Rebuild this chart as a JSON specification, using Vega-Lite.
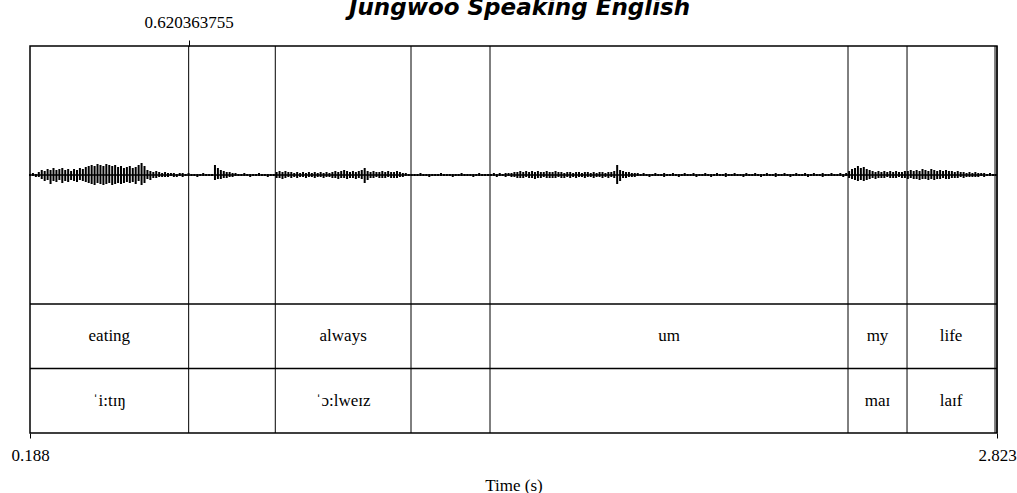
{
  "$schema": "https://vega.github.io/schema/vega-lite/v6.json",
  "width": 967,
  "height": 387,
  "autosize": {"type": "none"},
  "padding": {"left": 30, "top": 46, "right": 20, "bottom": 60},
  "title": {"text": "Jungwoo Speaking English", "font": "DejaVu Sans", "fontSize": 23, "fontStyle": "italic", "fontWeight": "bold", "anchor": "middle", "offset": -7, "dx": 6, "color": "black"},
  "config": {
    "view": {"stroke": "black", "strokeWidth": 1.5},
    "axis": {"labelFont": "Liberation Serif, Times New Roman, serif", "labelFontSize": 17, "labelColor": "black", "tickColor": "black", "tickWidth": 1, "domain": false, "grid": false, "labelFlush": false, "titleFont": "Liberation Serif, Times New Roman, serif", "titleFontSize": 17, "titleFontWeight": "normal", "titleColor": "black"}
  },
  "datasets": {
    "intervals": [
      {"tier": 1, "start": 0.188, "end": 0.620363755, "label": "eating"},
      {"tier": 1, "start": 0.620363755, "end": 0.8564, "label": ""},
      {"tier": 1, "start": 0.8564, "end": 1.2262, "label": "always"},
      {"tier": 1, "start": 1.2262, "end": 1.4415, "label": ""},
      {"tier": 1, "start": 1.4415, "end": 2.417, "label": "um"},
      {"tier": 1, "start": 2.417, "end": 2.5778, "label": "my"},
      {"tier": 1, "start": 2.5778, "end": 2.8176, "label": "life"},
      {"tier": 1, "start": 2.8176, "end": 2.823, "label": ""},
      {"tier": 2, "start": 0.188, "end": 0.620363755, "label": "ˈi:tɪŋ"},
      {"tier": 2, "start": 0.620363755, "end": 0.8564, "label": ""},
      {"tier": 2, "start": 0.8564, "end": 1.2262, "label": "ˈɔ:lweɪz"},
      {"tier": 2, "start": 1.2262, "end": 1.4415, "label": ""},
      {"tier": 2, "start": 1.4415, "end": 2.417, "label": ""},
      {"tier": 2, "start": 2.417, "end": 2.5778, "label": "maɪ"},
      {"tier": 2, "start": 2.5778, "end": 2.8176, "label": "laɪf"},
      {"tier": 2, "start": 2.8176, "end": 2.823, "label": ""}
    ],
    "wave": [
      {"t":0.188,"hi":1,"lo":-1},{"t":0.196,"hi":2,"lo":-1},{"t":0.204,"hi":1,"lo":-2},{"t":0.212,"hi":3,"lo":-2},
      {"t":0.220,"hi":5,"lo":-4},{"t":0.228,"hi":4,"lo":-6},{"t":0.236,"hi":6,"lo":-5},{"t":0.244,"hi":5,"lo":-9},
      {"t":0.252,"hi":7,"lo":-6},{"t":0.260,"hi":5,"lo":-7},{"t":0.268,"hi":6,"lo":-5},{"t":0.276,"hi":7,"lo":-8},
      {"t":0.284,"hi":5,"lo":-6},{"t":0.292,"hi":6,"lo":-7},{"t":0.300,"hi":4,"lo":-5},{"t":0.308,"hi":6,"lo":-6},
      {"t":0.316,"hi":5,"lo":-7},{"t":0.324,"hi":7,"lo":-5},{"t":0.332,"hi":6,"lo":-6},{"t":0.340,"hi":8,"lo":-7},
      {"t":0.348,"hi":9,"lo":-8},{"t":0.356,"hi":10,"lo":-9},{"t":0.364,"hi":9,"lo":-10},{"t":0.372,"hi":11,"lo":-8},
      {"t":0.380,"hi":10,"lo":-9},{"t":0.388,"hi":9,"lo":-10},{"t":0.396,"hi":11,"lo":-9},{"t":0.404,"hi":10,"lo":-8},
      {"t":0.412,"hi":9,"lo":-10},{"t":0.420,"hi":10,"lo":-9},{"t":0.428,"hi":8,"lo":-8},{"t":0.436,"hi":9,"lo":-9},
      {"t":0.444,"hi":7,"lo":-8},{"t":0.452,"hi":8,"lo":-7},{"t":0.460,"hi":9,"lo":-8},{"t":0.468,"hi":7,"lo":-7},
      {"t":0.476,"hi":8,"lo":-9},{"t":0.484,"hi":10,"lo":-6},{"t":0.492,"hi":12,"lo":-10},{"t":0.500,"hi":9,"lo":-8},
      {"t":0.508,"hi":5,"lo":-4},{"t":0.516,"hi":4,"lo":-5},{"t":0.524,"hi":3,"lo":-3},{"t":0.532,"hi":4,"lo":-3},
      {"t":0.540,"hi":3,"lo":-2},{"t":0.548,"hi":2,"lo":-2},{"t":0.556,"hi":3,"lo":-2},{"t":0.564,"hi":2,"lo":-2},
      {"t":0.572,"hi":2,"lo":-1},{"t":0.580,"hi":2,"lo":-2},{"t":0.588,"hi":1,"lo":-2},{"t":0.596,"hi":2,"lo":-1},
      {"t":0.604,"hi":2,"lo":-2},{"t":0.612,"hi":1,"lo":-1},{"t":0.620,"hi":2,"lo":-1},{"t":0.628,"hi":1,"lo":-1},
      {"t":0.636,"hi":1,"lo":-1},{"t":0.644,"hi":1,"lo":-2},{"t":0.652,"hi":1,"lo":-1},{"t":0.660,"hi":2,"lo":-1},
      {"t":0.668,"hi":1,"lo":-1},{"t":0.676,"hi":1,"lo":-1},{"t":0.684,"hi":1,"lo":-1},{"t":0.692,"hi":10,"lo":-5},
      {"t":0.700,"hi":7,"lo":-4},{"t":0.708,"hi":5,"lo":-4},{"t":0.716,"hi":4,"lo":-3},{"t":0.724,"hi":3,"lo":-3},
      {"t":0.732,"hi":3,"lo":-2},{"t":0.740,"hi":2,"lo":-2},{"t":0.748,"hi":2,"lo":-1},{"t":0.756,"hi":1,"lo":-1},
      {"t":0.764,"hi":1,"lo":-1},{"t":0.772,"hi":2,"lo":-1},{"t":0.780,"hi":1,"lo":-1},{"t":0.788,"hi":1,"lo":-2},
      {"t":0.796,"hi":1,"lo":-1},{"t":0.804,"hi":1,"lo":-1},{"t":0.812,"hi":2,"lo":-1},{"t":0.820,"hi":1,"lo":-1},
      {"t":0.828,"hi":1,"lo":-1},{"t":0.836,"hi":1,"lo":-2},{"t":0.844,"hi":1,"lo":-1},{"t":0.852,"hi":1,"lo":-1},
      {"t":0.860,"hi":3,"lo":-3},{"t":0.868,"hi":4,"lo":-3},{"t":0.876,"hi":3,"lo":-4},{"t":0.884,"hi":4,"lo":-3},
      {"t":0.892,"hi":3,"lo":-2},{"t":0.900,"hi":3,"lo":-3},{"t":0.908,"hi":2,"lo":-2},{"t":0.916,"hi":3,"lo":-3},
      {"t":0.924,"hi":2,"lo":-2},{"t":0.932,"hi":3,"lo":-2},{"t":0.940,"hi":2,"lo":-3},{"t":0.948,"hi":3,"lo":-2},
      {"t":0.956,"hi":2,"lo":-2},{"t":0.964,"hi":3,"lo":-3},{"t":0.972,"hi":2,"lo":-2},{"t":0.980,"hi":3,"lo":-2},
      {"t":0.988,"hi":2,"lo":-3},{"t":0.996,"hi":3,"lo":-2},{"t":1.004,"hi":2,"lo":-2},{"t":1.012,"hi":3,"lo":-3},
      {"t":1.020,"hi":4,"lo":-3},{"t":1.028,"hi":3,"lo":-4},{"t":1.036,"hi":4,"lo":-3},{"t":1.044,"hi":5,"lo":-3},
      {"t":1.052,"hi":4,"lo":-4},{"t":1.060,"hi":3,"lo":-3},{"t":1.068,"hi":4,"lo":-3},{"t":1.076,"hi":3,"lo":-4},
      {"t":1.084,"hi":4,"lo":-3},{"t":1.092,"hi":5,"lo":-4},{"t":1.100,"hi":7,"lo":-8},{"t":1.108,"hi":4,"lo":-5},
      {"t":1.116,"hi":3,"lo":-3},{"t":1.124,"hi":4,"lo":-3},{"t":1.132,"hi":3,"lo":-2},{"t":1.140,"hi":3,"lo":-3},
      {"t":1.148,"hi":4,"lo":-3},{"t":1.156,"hi":3,"lo":-3},{"t":1.164,"hi":4,"lo":-2},{"t":1.172,"hi":3,"lo":-3},
      {"t":1.180,"hi":3,"lo":-3},{"t":1.188,"hi":4,"lo":-3},{"t":1.196,"hi":3,"lo":-2},{"t":1.204,"hi":2,"lo":-2},
      {"t":1.212,"hi":2,"lo":-1},{"t":1.220,"hi":1,"lo":-1},{"t":1.228,"hi":1,"lo":-1},{"t":1.236,"hi":1,"lo":-1},
      {"t":1.244,"hi":1,"lo":-1},{"t":1.252,"hi":2,"lo":-1},{"t":1.260,"hi":1,"lo":-1},{"t":1.268,"hi":1,"lo":-1},
      {"t":1.276,"hi":1,"lo":-2},{"t":1.284,"hi":1,"lo":-1},{"t":1.292,"hi":1,"lo":-1},{"t":1.300,"hi":1,"lo":-1},
      {"t":1.308,"hi":2,"lo":-1},{"t":1.316,"hi":1,"lo":-1},{"t":1.324,"hi":1,"lo":-1},{"t":1.332,"hi":1,"lo":-1},
      {"t":1.340,"hi":1,"lo":-2},{"t":1.348,"hi":1,"lo":-1},{"t":1.356,"hi":1,"lo":-1},{"t":1.364,"hi":2,"lo":-1},
      {"t":1.372,"hi":1,"lo":-1},{"t":1.380,"hi":1,"lo":-1},{"t":1.388,"hi":1,"lo":-1},{"t":1.396,"hi":1,"lo":-2},
      {"t":1.404,"hi":1,"lo":-1},{"t":1.412,"hi":2,"lo":-1},{"t":1.420,"hi":1,"lo":-1},{"t":1.428,"hi":1,"lo":-1},
      {"t":1.436,"hi":1,"lo":-1},{"t":1.444,"hi":1,"lo":-1},{"t":1.452,"hi":2,"lo":-1},{"t":1.460,"hi":1,"lo":-2},
      {"t":1.468,"hi":2,"lo":-1},{"t":1.476,"hi":1,"lo":-1},{"t":1.484,"hi":2,"lo":-2},{"t":1.492,"hi":2,"lo":-1},
      {"t":1.500,"hi":2,"lo":-2},{"t":1.508,"hi":3,"lo":-2},{"t":1.516,"hi":3,"lo":-3},{"t":1.524,"hi":4,"lo":-3},
      {"t":1.532,"hi":3,"lo":-3},{"t":1.540,"hi":4,"lo":-2},{"t":1.548,"hi":3,"lo":-3},{"t":1.556,"hi":4,"lo":-3},
      {"t":1.564,"hi":3,"lo":-4},{"t":1.572,"hi":4,"lo":-3},{"t":1.580,"hi":3,"lo":-3},{"t":1.588,"hi":3,"lo":-2},
      {"t":1.596,"hi":4,"lo":-3},{"t":1.604,"hi":3,"lo":-3},{"t":1.612,"hi":3,"lo":-3},{"t":1.620,"hi":4,"lo":-3},
      {"t":1.628,"hi":3,"lo":-2},{"t":1.636,"hi":3,"lo":-3},{"t":1.644,"hi":2,"lo":-3},{"t":1.652,"hi":3,"lo":-2},
      {"t":1.660,"hi":3,"lo":-3},{"t":1.668,"hi":2,"lo":-2},{"t":1.676,"hi":3,"lo":-3},{"t":1.684,"hi":3,"lo":-2},
      {"t":1.692,"hi":2,"lo":-2},{"t":1.700,"hi":3,"lo":-3},{"t":1.708,"hi":3,"lo":-2},{"t":1.716,"hi":2,"lo":-2},
      {"t":1.724,"hi":3,"lo":-3},{"t":1.732,"hi":2,"lo":-2},{"t":1.740,"hi":3,"lo":-2},{"t":1.748,"hi":3,"lo":-3},
      {"t":1.756,"hi":2,"lo":-2},{"t":1.764,"hi":3,"lo":-3},{"t":1.772,"hi":3,"lo":-2},{"t":1.780,"hi":4,"lo":-3},
      {"t":1.788,"hi":10,"lo":-9},{"t":1.796,"hi":5,"lo":-6},{"t":1.804,"hi":4,"lo":-3},{"t":1.812,"hi":3,"lo":-3},
      {"t":1.820,"hi":3,"lo":-2},{"t":1.828,"hi":2,"lo":-2},{"t":1.836,"hi":2,"lo":-2},{"t":1.844,"hi":2,"lo":-1},
      {"t":1.852,"hi":1,"lo":-1},{"t":1.860,"hi":2,"lo":-1},{"t":1.868,"hi":1,"lo":-1},{"t":1.876,"hi":1,"lo":-2},
      {"t":1.884,"hi":1,"lo":-1},{"t":1.892,"hi":2,"lo":-1},{"t":1.900,"hi":1,"lo":-1},{"t":1.908,"hi":1,"lo":-1},
      {"t":1.916,"hi":2,"lo":-2},{"t":1.924,"hi":1,"lo":-1},{"t":1.932,"hi":1,"lo":-1},{"t":1.940,"hi":2,"lo":-1},
      {"t":1.948,"hi":1,"lo":-1},{"t":1.956,"hi":1,"lo":-2},{"t":1.964,"hi":1,"lo":-1},{"t":1.972,"hi":2,"lo":-1},
      {"t":1.980,"hi":1,"lo":-1},{"t":1.988,"hi":1,"lo":-1},{"t":1.996,"hi":2,"lo":-1},{"t":2.004,"hi":1,"lo":-2},
      {"t":2.012,"hi":1,"lo":-1},{"t":2.020,"hi":1,"lo":-1},{"t":2.028,"hi":2,"lo":-1},{"t":2.036,"hi":1,"lo":-1},
      {"t":2.044,"hi":1,"lo":-2},{"t":2.052,"hi":1,"lo":-1},{"t":2.060,"hi":2,"lo":-1},{"t":2.068,"hi":1,"lo":-1},
      {"t":2.076,"hi":1,"lo":-1},{"t":2.084,"hi":2,"lo":-2},{"t":2.092,"hi":1,"lo":-1},{"t":2.100,"hi":1,"lo":-1},
      {"t":2.108,"hi":2,"lo":-1},{"t":2.116,"hi":1,"lo":-1},{"t":2.124,"hi":1,"lo":-1},{"t":2.132,"hi":1,"lo":-2},
      {"t":2.140,"hi":2,"lo":-1},{"t":2.148,"hi":1,"lo":-1},{"t":2.156,"hi":1,"lo":-1},{"t":2.164,"hi":2,"lo":-1},
      {"t":2.172,"hi":1,"lo":-1},{"t":2.180,"hi":1,"lo":-2},{"t":2.188,"hi":1,"lo":-1},{"t":2.196,"hi":2,"lo":-1},
      {"t":2.204,"hi":1,"lo":-1},{"t":2.212,"hi":1,"lo":-1},{"t":2.220,"hi":2,"lo":-2},{"t":2.228,"hi":1,"lo":-1},
      {"t":2.236,"hi":1,"lo":-1},{"t":2.244,"hi":2,"lo":-1},{"t":2.252,"hi":1,"lo":-1},{"t":2.260,"hi":1,"lo":-2},
      {"t":2.268,"hi":1,"lo":-1},{"t":2.276,"hi":2,"lo":-1},{"t":2.284,"hi":1,"lo":-1},{"t":2.292,"hi":1,"lo":-1},
      {"t":2.300,"hi":2,"lo":-1},{"t":2.308,"hi":1,"lo":-2},{"t":2.316,"hi":1,"lo":-1},{"t":2.324,"hi":2,"lo":-1},
      {"t":2.332,"hi":1,"lo":-1},{"t":2.340,"hi":1,"lo":-1},{"t":2.348,"hi":2,"lo":-2},{"t":2.356,"hi":1,"lo":-1},
      {"t":2.364,"hi":1,"lo":-1},{"t":2.372,"hi":2,"lo":-1},{"t":2.380,"hi":1,"lo":-1},{"t":2.388,"hi":1,"lo":-1},
      {"t":2.396,"hi":2,"lo":-1},{"t":2.404,"hi":1,"lo":-2},{"t":2.412,"hi":2,"lo":-1},{"t":2.420,"hi":4,"lo":-3},
      {"t":2.428,"hi":6,"lo":-4},{"t":2.436,"hi":7,"lo":-5},{"t":2.444,"hi":9,"lo":-6},{"t":2.452,"hi":7,"lo":-5},
      {"t":2.460,"hi":8,"lo":-6},{"t":2.468,"hi":6,"lo":-5},{"t":2.476,"hi":5,"lo":-4},{"t":2.484,"hi":4,"lo":-3},
      {"t":2.492,"hi":3,"lo":-4},{"t":2.500,"hi":4,"lo":-3},{"t":2.508,"hi":3,"lo":-3},{"t":2.516,"hi":4,"lo":-3},
      {"t":2.524,"hi":3,"lo":-2},{"t":2.532,"hi":4,"lo":-3},{"t":2.540,"hi":3,"lo":-3},{"t":2.548,"hi":4,"lo":-3},
      {"t":2.556,"hi":3,"lo":-2},{"t":2.564,"hi":3,"lo":-3},{"t":2.572,"hi":4,"lo":-3},{"t":2.580,"hi":4,"lo":-4},
      {"t":2.588,"hi":5,"lo":-3},{"t":2.596,"hi":4,"lo":-4},{"t":2.604,"hi":5,"lo":-4},{"t":2.612,"hi":4,"lo":-5},
      {"t":2.620,"hi":6,"lo":-4},{"t":2.628,"hi":5,"lo":-4},{"t":2.636,"hi":4,"lo":-5},{"t":2.644,"hi":6,"lo":-4},
      {"t":2.652,"hi":5,"lo":-5},{"t":2.660,"hi":4,"lo":-4},{"t":2.668,"hi":5,"lo":-4},{"t":2.676,"hi":4,"lo":-3},
      {"t":2.684,"hi":5,"lo":-4},{"t":2.692,"hi":4,"lo":-4},{"t":2.700,"hi":4,"lo":-3},{"t":2.708,"hi":3,"lo":-3},
      {"t":2.716,"hi":4,"lo":-3},{"t":2.724,"hi":3,"lo":-2},{"t":2.732,"hi":3,"lo":-3},{"t":2.740,"hi":2,"lo":-2},
      {"t":2.748,"hi":3,"lo":-2},{"t":2.756,"hi":2,"lo":-2},{"t":2.764,"hi":3,"lo":-2},{"t":2.772,"hi":2,"lo":-2},
      {"t":2.780,"hi":2,"lo":-1},{"t":2.788,"hi":2,"lo":-2},{"t":2.796,"hi":1,"lo":-1},{"t":2.804,"hi":2,"lo":-1},
      {"t":2.812,"hi":1,"lo":-1},{"t":2.820,"hi":1,"lo":-1}
    ]
  },
  "resolve": {"scale": {"y": "independent"}, "axis": {"x": "independent"}},
  "layer": [
    {
      "data": {"name": "wave"},
      "layer": [
        {
          "mark": {"type": "rule", "color": "black", "strokeWidth": 2},
          "encoding": {
            "x": {"field": "t", "type": "quantitative", "scale": {"domain": [0.188, 2.823], "nice": false, "zero": false},
                  "axis": {"orient": "top", "values": [0.620363755], "format": ".9f", "title": null, "tickSize": 6, "labelPadding": 9}},
            "y": {"field": "lo", "type": "quantitative", "scale": {"domain": [-258, 129], "nice": false, "zero": false}, "axis": null},
            "y2": {"field": "hi"}
          }
        },
        {
          "mark": {"type": "line", "color": "black", "strokeWidth": 1.5},
          "encoding": {
            "x": {"field": "t", "type": "quantitative"},
            "y": {"datum": 0, "type": "quantitative"}
          }
        }
      ]
    },
    {
      "data": {"name": "intervals"},
      "transform": [{"filter": "datum.tier == 1"}],
      "mark": {"type": "rule", "color": "black", "strokeWidth": 1},
      "encoding": {
        "x": {"field": "end", "type": "quantitative", "axis": null}
      }
    },
    {
      "data": {"values": [{"edge": 0.5}, {"edge": 1.5}]},
      "mark": {"type": "rule", "color": "black", "strokeWidth": 1.5},
      "encoding": {
        "y": {"field": "edge", "type": "quantitative", "scale": {"domain": [-3.5, 2.5], "reverse": true, "nice": false, "zero": false}, "axis": null}
      }
    },
    {
      "data": {"name": "intervals"},
      "transform": [{"calculate": "(datum.start + datum.end) / 2", "as": "mid"}],
      "mark": {"type": "text", "font": "Liberation Serif, Times New Roman, serif", "fontSize": 17, "color": "black"},
      "encoding": {
        "x": {"field": "mid", "type": "quantitative",
              "axis": {"orient": "bottom", "values": [0.188, 2.823], "format": ".3f", "title": "Time (s)", "tickSize": 5, "labelPadding": 9, "titlePadding": 14}},
        "y": {"field": "tier", "type": "quantitative", "scale": {"domain": [-3.5, 2.5], "reverse": true, "nice": false, "zero": false}, "axis": null},
        "text": {"field": "label"}
      }
    }
  ]
}
